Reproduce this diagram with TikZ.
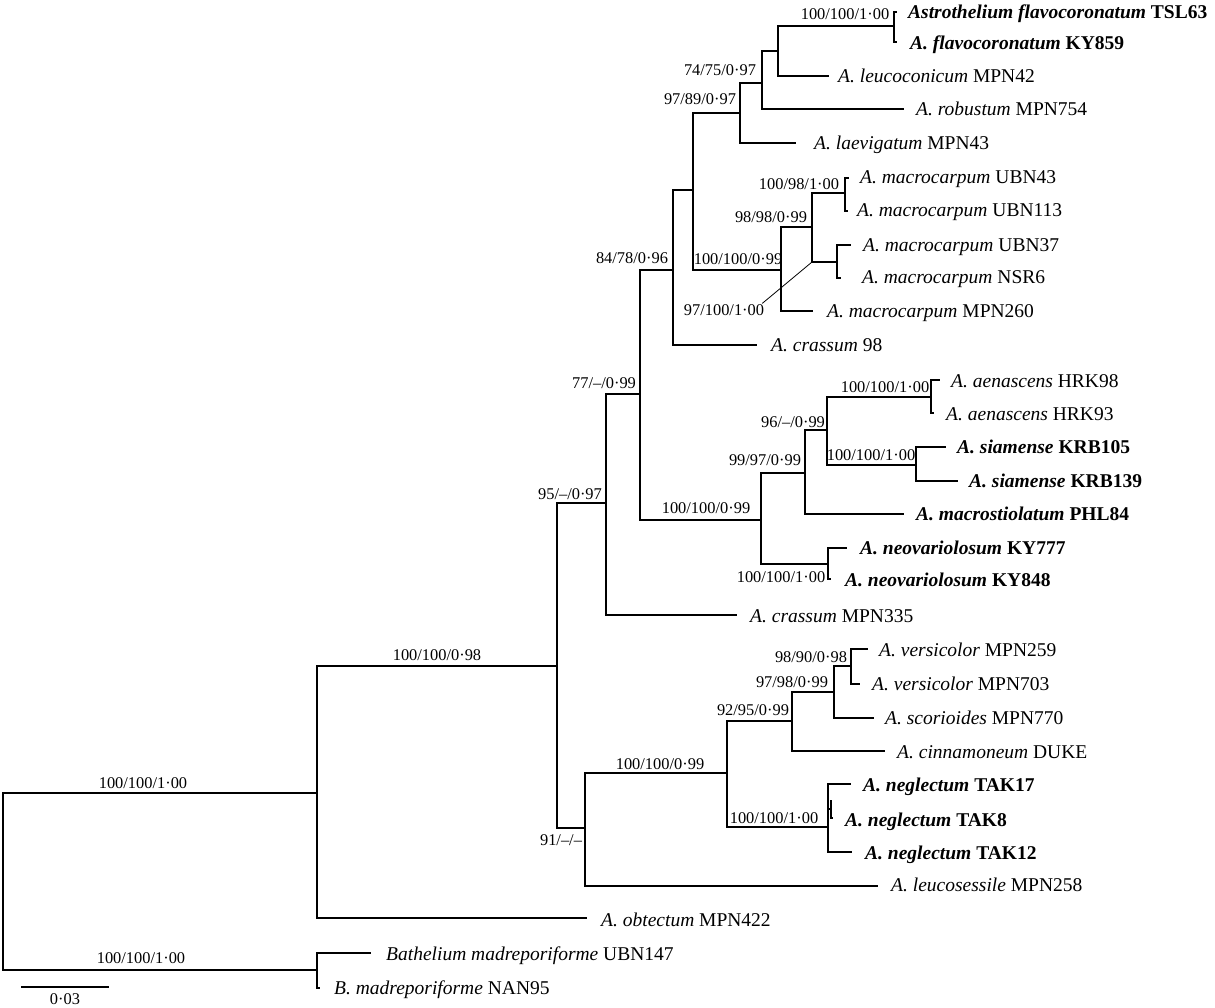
\documentclass[tikz,border=0pt]{standalone}
\usepackage{fontspec}
\setmainfont{Liberation Serif}
\begin{document}
\begin{tikzpicture}[x=1pt,y=-1pt,
  br/.style={line width=2.8pt,line join=miter},
  leaf/.style={anchor=base west,inner sep=0pt,font=\fontsize{19.5}{22}\selectfont},
  supp/.style={anchor=base,inner sep=0pt,font=\fontsize{16.4}{18}\selectfont},
  leader/.style={line width=0.8pt}]
\useasboundingbox (0,0) rectangle (1215,1008);
% internal nodes (x of vertical line, y where parent branch attaches)
\coordinate (R) at (3,880);
\coordinate (A) at (317,793);
\coordinate (Bt) at (317,970);
\coordinate (B) at (557,666);
\coordinate (C) at (606,503);
\coordinate (D) at (640,394);
\coordinate (E) at (673,270);
\coordinate (F) at (693,190);
\coordinate (G) at (740,113);
\coordinate (H) at (762,83);
\coordinate (I) at (778,51);
\coordinate (J) at (894,26);
\coordinate (K) at (781,270);
\coordinate (L) at (812,227);
\coordinate (M) at (845,193);
\coordinate (N) at (837,262);
\coordinate (O) at (761,520);
\coordinate (P) at (805,473);
\coordinate (Q) at (827,430);
\coordinate (S) at (931,397);
\coordinate (T) at (916,465);
\coordinate (U) at (828,564);
\coordinate (V) at (585,828);
\coordinate (W) at (727,773);
\coordinate (X) at (792,721);
\coordinate (Y) at (834,692);
\coordinate (Z) at (851,666);
\coordinate (NG) at (828,827);
\coordinate (NGb) at (831,809);
\coordinate (NGt) at (831,800);
% leaf tips
\coordinate (t1) at (897,12);
\coordinate (t2) at (897,42);
\coordinate (t3) at (829,76);
\coordinate (t4) at (904,109);
\coordinate (t5) at (796,143);
\coordinate (t6) at (849,178);
\coordinate (t7) at (848,211);
\coordinate (t8) at (851,245);
\coordinate (t9) at (841,278);
\coordinate (t10) at (813,311);
\coordinate (t11) at (757,345);
\coordinate (t12) at (940,380);
\coordinate (t13) at (934,413);
\coordinate (t14) at (946,447);
\coordinate (t15) at (958,481);
\coordinate (t16) at (904,514);
\coordinate (t17) at (847,548);
\coordinate (t18) at (831,579);
\coordinate (t19) at (737,615);
\coordinate (t20) at (868,649);
\coordinate (t21) at (860,684);
\coordinate (t22) at (874,718);
\coordinate (t23) at (885,751);
\coordinate (t24) at (851,784);
\coordinate (t25) at (833,818);
\coordinate (t26) at (852,852);
\coordinate (t27) at (878,886);
\coordinate (t28) at (587,918);
\coordinate (t29) at (371,953);
\coordinate (t30) at (320,988);
% branches
\foreach \p/\c in {R/A,R/Bt,A/B,A/t28,B/C,B/V,C/D,C/t19,D/E,D/O,E/F,E/t11,
  F/G,F/K,G/H,G/t5,H/I,H/t4,I/J,I/t3,J/t1,J/t2,K/L,K/t10,L/M,L/N,M/t6,M/t7,
  N/t8,N/t9,O/P,O/U,P/Q,P/t16,Q/S,Q/T,S/t12,S/t13,T/t14,T/t15,U/t17,U/t18,
  V/W,V/t27,W/X,W/NG,X/Y,X/t23,Y/Z,Y/t22,Z/t20,Z/t21,NG/t24,NG/NGb,NG/t26,
  NGt/t25,Bt/t29,Bt/t30}
  \draw[br] (\p) |- (\c);
% leaf labels
\node[leaf] (l1) at (908,18.5) {\textbf{\textit{Astrothelium flavocoronatum} TSL63}};
\node[leaf] (l2) at (910,49.5) {\textbf{\textit{A. flavocoronatum} KY859}};
\node[leaf] (l3) at (838,82.5) {\textit{A. leucoconicum} MPN42};
\node[leaf] (l4) at (916,115.5) {\textit{A. robustum} MPN754};
\node[leaf] (l5) at (814,149.5) {\textit{A. laevigatum} MPN43};
\node[leaf] (l6) at (860,183.5) {\textit{A. macrocarpum} UBN43};
\node[leaf] (l7) at (857,216.5) {\textit{A. macrocarpum} UBN113};
\node[leaf] (l8) at (863,251.5) {\textit{A. macrocarpum} UBN37};
\node[leaf] (l9) at (862,283.5) {\textit{A. macrocarpum} NSR6};
\node[leaf] (l10) at (827,317.5) {\textit{A. macrocarpum} MPN260};
\node[leaf] (l11) at (771,351.5) {\textit{A. crassum} 98};
\node[leaf] (l12) at (951,387.5) {\textit{A. aenascens} HRK98};
\node[leaf] (l13) at (946,420.5) {\textit{A. aenascens} HRK93};
\node[leaf] (l14) at (957,453.5) {\textbf{\textit{A. siamense} KRB105}};
\node[leaf] (l15) at (969,487.5) {\textbf{\textit{A. siamense} KRB139}};
\node[leaf] (l16) at (916,520.5) {\textbf{\textit{A. macrostiolatum} PHL84}};
\node[leaf] (l17) at (860,554.5) {\textbf{\textit{A. neovariolosum} KY777}};
\node[leaf] (l18) at (845,586.5) {\textbf{\textit{A. neovariolosum} KY848}};
\node[leaf] (l19) at (750,622.5) {\textit{A. crassum} MPN335};
\node[leaf] (l20) at (879,656.5) {\textit{A. versicolor} MPN259};
\node[leaf] (l21) at (872,690.5) {\textit{A. versicolor} MPN703};
\node[leaf] (l22) at (885,724.5) {\textit{A. scorioides} MPN770};
\node[leaf] (l23) at (897,758.5) {\textit{A. cinnamoneum} DUKE};
\node[leaf] (l24) at (863,791.5) {\textbf{\textit{A. neglectum} TAK17}};
\node[leaf] (l25) at (845,826.5) {\textbf{\textit{A. neglectum} TAK8}};
\node[leaf] (l26) at (865,859.5) {\textbf{\textit{A. neglectum} TAK12}};
\node[leaf] (l27) at (891,891.5) {\textit{A. leucosessile} MPN258};
\node[leaf] (l28) at (601,926) {\textit{A. obtectum} MPN422};
\node[leaf] (l29) at (386,960) {\textit{Bathelium madreporiforme} UBN147};
\node[leaf] (l30) at (334,994.5) {\textit{B. madreporiforme} NAN95};
% support values
\node[supp] (s1) at (845,19.5) {100/100/1·00};
\node[supp] (s2) at (720,75.5) {74/75/0·97};
\node[supp] (s3) at (700,104.5) {97/89/0·97};
\node[supp] (s4) at (799,189.5) {100/98/1·00};
\node[supp] (s5) at (771,222.5) {98/98/0·99};
\node[supp] (s6) at (738,264.5) {100/100/0·99};
\node[supp] (s7) at (724,315.5) {97/100/1·00};
\node[supp] (s8) at (632,263.5) {84/78/0·96};
\node[supp] (s9) at (604,388.5) {77/–/0·99};
\node[supp] (s10) at (570,499) {95/–/0·97};
\node[supp] (s11) at (706,513.5) {100/100/0·99};
\node[supp] (s12) at (765,465.5) {99/97/0·99};
\node[supp] (s13) at (793,427.5) {96/–/0·99};
\node[supp] (s14) at (885,392.5) {100/100/1·00};
\node[supp] (s15) at (871,460.5) {100/100/1·00};
\node[supp] (s16) at (781,582.5) {100/100/1·00};
\node[supp] (s17) at (437,660.5) {100/100/0·98};
\node[supp] (s18) at (561,845.5) {91/–/–};
\node[supp] (s19) at (660,769.5) {100/100/0·99};
\node[supp] (s20) at (753,715.5) {92/95/0·99};
\node[supp] (s21) at (792,687.5) {97/98/0·99};
\node[supp] (s22) at (811,662.5) {98/90/0·98};
\node[supp] (s23) at (774,823.5) {100/100/1·00};
\node[supp] (s24) at (143,788.5) {100/100/1·00};
\node[supp] (s25) at (141,963.5) {100/100/1·00};
% leader line
\coordinate (lead) at (812,262);
\draw[leader] ([shift={(-2,-1)}]s7.north east) -- (lead);
% scale bar
\coordinate (sb1) at (21,987);
\coordinate (sb2) at (109,987);
\draw[line width=2pt] (sb1) -- (sb2);
\node[supp] (sbl) at (65,1004.5) {0·03};
\end{tikzpicture}
\end{document}
